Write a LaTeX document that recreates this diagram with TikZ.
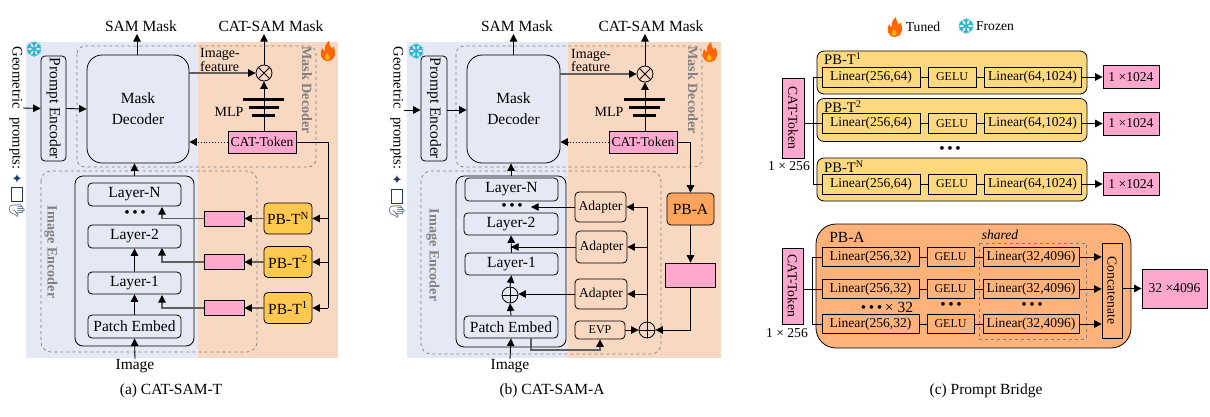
\documentclass[tikz,border=0pt]{standalone}
\usepackage{fontspec}
\setmainfont{Liberation Serif}
\newfontfamily\emojifont{Noto Emoji}
\newfontfamily\symfont{DejaVu Sans}
\usetikzlibrary{arrows.meta}
\definecolor{frozenbg}{HTML}{E4E9F5}
\definecolor{tunedbg}{HTML}{F9D8C2}
\definecolor{tokenpink}{HTML}{FFA8CF}
\definecolor{pbtgold}{HTML}{FFC84F}
\definecolor{pbtlight}{HTML}{FFD97F}
\definecolor{pbaorange}{HTML}{FFA45C}
\definecolor{pbalight}{HTML}{FFB27A}
\definecolor{iconteal}{HTML}{2FB5CF}
\definecolor{icondark}{HTML}{1F3864}
\definecolor{wiregray}{HTML}{5F5F5F}
\newcommand{\fbig}{\fontsize{15.5}{17}\selectfont}
\newcommand{\fmid}{\fontsize{13.6}{13}\selectfont}
\newcommand{\fsm}{\fontsize{12}{13}\selectfont}
\begin{document}
\begin{tikzpicture}[x=1pt,y=-1pt]
	\tikzstyle{every node}+=[inner sep=0pt,font=\fbig]
	\tikzstyle{arr}=[-{Triangle[length=7.5pt,width=7.5pt]},line width=0.9pt]
	\tikzstyle{grayarr}=[arr,draw=wiregray,line width=1.2pt,{-{Triangle[length=7.5pt,width=7.5pt,black]}}]
	\tikzstyle{line}=[line width=0.9pt]
	\tikzstyle{boxa}=[draw,line width=0.8pt,rounded corners=4pt]
	\tikzstyle{sq}=[draw,line width=0.8pt,font=\fmid]
	\tikzstyle{pink}=[sq,fill=tokenpink]
	\tikzstyle{fence}=[draw=gray,dashed,line width=0.7pt]
	\tikzstyle{grayname}=[text=gray,font=\fontsize{14.2}{16}\selectfont\bfseries,rotate=-90]
	\tikzstyle{otimes}=[draw,circle,line width=0.8pt,minimum size=16pt,path picture={
		\draw (path picture bounding box.north west) -- (path picture bounding box.south east);
		\draw (path picture bounding box.north east) -- (path picture bounding box.south west);}]
	\tikzstyle{oplus}=[draw,circle,line width=0.8pt,minimum size=16pt,path picture={
		\draw (path picture bounding box.north) -- (path picture bounding box.south);
		\draw (path picture bounding box.east) -- (path picture bounding box.west);}]
	\tikzset{flame/.pic={
		\fill[orange!80!red] (0,10) .. controls (-7,10) and (-9,3) .. (-6,-3) .. controls (-5,-1) and (-4,0) .. (-3,0) .. controls (-4,-4) and (-2,-8) .. (1,-10) .. controls (1,-6) and (3,-4) .. (4,-2) .. controls (5,-3) and (5,-4) .. (5,-5) .. controls (8,-1) and (9,9) .. (0,10);
		\fill[orange!55!yellow] (0,9) .. controls (-4,9) and (-4,5) .. (-1,2) .. controls (-1,4) and (4,5) .. (0,9);},
		snowflake/.pic={
		\foreach \ang in {0,60,...,300}
		{
			\draw[iconteal,line width=1.5pt,rotate=\ang] (0,0) -- (0,-7.5) (-2.6,-6.6) -- (0,-4.2) -- (2.6,-6.6);
		}}}
	\useasboundingbox (0,0) rectangle (1210,416);

	% (a) CAT-SAM-T
	\fill [frozenbg] (26,42) rectangle (198,358);
	\fill [tunedbg] (198,42) rectangle (338,358);
	\draw [fence,rounded corners=8pt] (77,46) rectangle (316,167);
	\draw [fence,rounded corners=10pt] (41,171) rectangle (257,352);
	\node [grayname] (mdnamea) at (307,90) {Mask Decoder};
	\node [grayname] (ienamea) at (51,252) {Image Encoder};
	\pic at (34,49) {snowflake};
	\pic at (328,51) {flame};
	\node [rotate=-90,font=\fontsize{14.6}{16}\selectfont] (geoa) at (16,108) {Geometric\hspace{5pt} prompts:};
	\node [text=icondark,font=\symfont\fontsize{13}{13}\selectfont] (stara) at (17,179) {✦};
	\node [draw=icondark,line width=0.8pt,minimum width=11pt,minimum height=14pt] (squarea) at (17,194) {};
	\node [text=icondark,rotate=-90,font=\emojifont\fontsize{15}{15}\selectfont] (handa) at (17,211) {✋};
	\node [boxa,rotate=-90,minimum width=105pt,minimum height=25pt] (pea) at (53.5,108.5) {Prompt Encoder};
	\node [boxa,rounded corners=15pt,minimum width=102pt,minimum height=108pt,align=center] (mda) at (138,109) {Mask\\[4pt]Decoder};
	\node (sama) at (141,26) {SAM Mask};
	\node (catsama) at (271,26) {CAT-SAM Mask};
	\node [otimes] (mula) at (264,73) {};
	\node [anchor=west,align=left,font=\fontsize{14}{12.5}\selectfont] (ifa) at (200,60) {Image-\\feature};
	\node [pink,minimum width=68pt,minimum height=22pt] (toka) at (262,142) {CAT-Token};
	\node [font=\fontsize{14}{16}\selectfont] (mlpa) at (229,112) {MLP};
	\draw [line width=3pt] (243,99) -- (284,99);
	\draw [line width=3pt] (249,107) -- (279,107);
	\draw [line width=3pt] (252,115) -- (275,115);
	\node [boxa,rounded corners=8pt,minimum width=119pt,minimum height=170pt] (enca) at (134.5,261) {};
	\node [boxa,minimum width=93pt,minimum height=23pt] (lna) at (134.5,194.5) {Layer-N};
	\node [boxa,minimum width=93pt,minimum height=23pt] (l2a) at (134.5,236.5) {Layer-2};
	\node [boxa,minimum width=93pt,minimum height=22pt] (l1a) at (134.5,283) {Layer-1};
	\node [boxa,minimum width=93pt,minimum height=23pt] (pata) at (134.5,326.5) {Patch Embed};
	\node (dotsa) at (135,214) {\textbullet\,\textbullet\,\textbullet};
	\node (imga) at (135,366) {Image};
	\node (capa) at (171,391) {(a) CAT-SAM-T};
	\coordinate (geooa) at (23,108);
	\coordinate (samtipa) at (137,34);
	\coordinate (cattipa) at (264,34);
	\draw [arr] (geooa) -- (pea.south);
	\draw [arr] (pea.north) -- (mda.west);
	\draw [arr] (mda.north -| samtipa) -- (samtipa);
	\draw [arr] (mula.north) -- (cattipa);
	\draw [grayarr] (mda.east |- mula) -- (mula.west);
	\draw [arr] (mula.south |- toka.north) -- (mula.south);
	\draw [arr,dotted] (toka.west) -- (mda.east |- toka);
	\draw [arr] (imga.north) -- (pata.south);
	\draw [arr] (pata.north) -- (l1a.south);
	\draw [arr] (l1a.north) -- (l2a.south);
	\draw [arr] (enca.north) -- (enca.north |- mda.south);
	\coordinate (spinea) at (328,308);
	\draw [line] (toka.east) -| (spinea);
	\foreach \lv/\yb/\yt in {N/218.5/207,2/262/248,1/308/295}
	{
		\node [boxa,fill=pbtgold,minimum width=48pt,minimum height=31pt] (pbt\lv) at (288,\yb) {PB-T\textsuperscript{\lv}};
		\node [pink,minimum width=40pt,minimum height=15pt] (pk\lv) at (224,\yb) {};
		\coordinate (tap\lv) at (162,\yt);
		\draw [arr] (spinea |- pbt\lv.east) -- (pbt\lv.east);
		\draw [grayarr] (pbt\lv.west) -- (pk\lv.east);
		\draw [grayarr] (pk\lv.west) -| (tap\lv);
	}

	% (b) CAT-SAM-A
	\fill [frozenbg] (407,42) rectangle (568,358);
	\fill [tunedbg] (568,42) rectangle (721,358);
	\draw [fence,rounded corners=8pt] (456,46) rectangle (702,167);
	\draw [fence,rounded corners=10pt] (421,171) rectangle (661,354);
	\node [grayname] (mdnameb) at (693,90) {Mask Decoder};
	\node [grayname] (ienameb) at (433,255) {Image Encoder};
	\pic at (416,51) {snowflake};
	\pic at (710,52) {flame};
	\node [rotate=-90,font=\fontsize{14.6}{16}\selectfont] (geob) at (397,108) {Geometric\hspace{5pt} prompts:};
	\node [text=icondark,font=\symfont\fontsize{13}{13}\selectfont] (starb) at (397,180) {✦};
	\node [draw=icondark,line width=0.8pt,minimum width=11pt,minimum height=14pt] (squareb) at (397,196) {};
	\node [text=icondark,rotate=-90,font=\emojifont\fontsize{15}{15}\selectfont] (handb) at (397,212) {✋};
	\node [boxa,rotate=-90,minimum width=105pt,minimum height=26pt] (peb) at (434,108.5) {Prompt Encoder};
	\node [boxa,rounded corners=15pt,minimum width=93pt,minimum height=108pt,align=center] (mdb) at (513.5,109) {Mask\\[4pt]Decoder};
	\node (samb) at (517,26) {SAM Mask};
	\node (catsamb) at (651,26) {CAT-SAM Mask};
	\node [otimes] (mulb) at (645,74) {};
	\node [anchor=west,align=left,font=\fontsize{14}{12.5}\selectfont] (ifb) at (571,60.5) {Image-\\feature};
	\node [pink,minimum width=68pt,minimum height=22pt] (tokb) at (643,142) {CAT-Token};
	\node [font=\fontsize{14}{16}\selectfont] (mlpb) at (609,112) {MLP};
	\draw [line width=3pt] (624,99) -- (665,99);
	\draw [line width=3pt] (629,107) -- (660,107);
	\draw [line width=3pt] (633,115) -- (656,115);
	\node [boxa,rounded corners=8pt,minimum width=110pt,minimum height=171pt] (encb) at (511,261.5) {};
	\node [boxa,minimum width=93pt,minimum height=23pt] (lnb) at (511.5,189.5) {Layer-N};
	\node [boxa,minimum width=94pt,minimum height=22pt] (l2b) at (511,224) {Layer-2};
	\node [boxa,minimum width=93pt,minimum height=22pt] (l1b) at (511.5,264) {Layer-1};
	\node [boxa,minimum width=94pt,minimum height=22pt] (patb) at (511,327) {Patch Embed};
	\node [oplus] (addb) at (510,295) {};
	\node (dotsb) at (512,207) {\textbullet\,\textbullet\,\textbullet};
	\node (imgb) at (510,366) {Image};
	\node (capb) at (552,391) {(b) CAT-SAM-A};
	\node [boxa,font=\fmid,minimum width=51pt,minimum height=30pt] (adn) at (600.5,207) {Adapter};
	\node [boxa,font=\fmid,minimum width=51pt,minimum height=32pt] (ad2) at (601.5,247) {Adapter};
	\node [boxa,font=\fmid,minimum width=52pt,minimum height=30pt] (ad1) at (601,294) {Adapter};
	\node [boxa,font=\fsm,minimum width=50pt,minimum height=18pt] (evp) at (600,330) {EVP};
	\node [oplus] (addc) at (647,330) {};
	\node [boxa,fill=pbaorange,minimum width=47pt,minimum height=32pt] (pbab) at (690.5,209) {PB-A};
	\node [pink,minimum width=50pt,minimum height=24pt] (pkb) at (690.5,275) {};
	\coordinate (geoob) at (404,110);
	\coordinate (samtipb) at (513.5,34);
	\coordinate (cattipb) at (645,34);
	\coordinate (adntip) at (531,207);
	\coordinate (ad2tip) at (511,247);
	\coordinate (evpturn) at (531,350);
	\draw [arr] (geoob) -- (peb.south |- geoob);
	\draw [arr] (peb.north |- geoob) -- (mdb.west |- geoob);
	\draw [arr] (mdb.north) -- (samtipb);
	\draw [arr] (mulb.north) -- (cattipb);
	\draw [grayarr] (mdb.east |- mulb) -- (mulb.west);
	\draw [arr] (mulb.south |- tokb.north) -- (mulb.south);
	\draw [arr,dotted] (tokb.west) -- (mdb.east |- tokb);
	\draw [arr] (tokb.east) -| (pbab.north);
	\draw [arr] (pbab.south) -- (pkb.north);
	\draw [arr] (pkb.south) |- (addc.east);
	\draw [arr] (imgb.north) -- (patb.south);
	\draw [arr] (patb.north) -- (addb.south);
	\draw [arr] (addb.north) -- (l1b.south);
	\draw [arr] (l1b.north) -- (l2b.south);
	\draw [arr] (encb.north) -- (encb.north |- mdb.south);
	\draw [arr] (ad1.west) -- (addb.east |- ad1);
	\draw [arr] (ad2.west) -- (ad2tip);
	\draw [arr] (adn.west) -- (adntip);
	\draw [arr] (evp.east) -- (addc.west);
	\draw [line] (addc.north) -- (addc.north |- adn.east);
	\draw [arr] (addc.north |- adn.east) -- (adn.east);
	\draw [arr] (addc.north |- ad2.east) -- (ad2.east);
	\draw [arr] (addc.north |- ad1.east) -- (ad1.east);
	\draw [grayarr] (adntip |- patb.south) -- (evpturn) -| (evp.south);

	% (c) Prompt Bridge
	\pic at (895,27) {flame};
	\node [font=\fmid] (tuned) at (923,27) {Tuned};
	\pic at (966,26) {snowflake};
	\node [font=\fmid] (frozen) at (995,26) {Frozen};
	\foreach \lv/\yb/\yr/\ys in {1/72.5/77/59,2/120/123.5/107,N/179.5/184/167}
	{
		\node [boxa,rounded corners=7pt,fill=pbtlight,minimum width=270pt,minimum height=43pt] (pbc\lv) at (952,\yb) {};
		\node [anchor=west,font=\fontsize{14.6}{16}\selectfont] (name\lv) at (824,\ys) {PB-T\textsuperscript{\lv}};
		\node [sq,minimum width=98pt,minimum height=20pt] (la\lv) at (871,\yr) {Linear(256,64)};
		\node [sq,minimum width=48pt,minimum height=20pt,font=\fsm] (ge\lv) at (952,\yr) {GELU};
		\node [sq,minimum width=97pt,minimum height=20pt] (lb\lv) at (1032.5,\yr) {Linear(64,1024)};
		\node [pink,minimum width=56pt,minimum height=23pt] (out\lv) at (1131,\yr) {1 ×1024};
		\draw [line] (la\lv.east) -- (ge\lv.west);
		\draw [line] (ge\lv.east) -- (lb\lv.west);
		\draw [arr] (lb\lv.east) -- (out\lv.west);
	}
	\node (dotsc) at (950,150) {\textbullet\,\textbullet\,\textbullet};
	\node [pink,rotate=-90,minimum width=80pt,minimum height=22pt] (tokc) at (793,118) {CAT-Token};
	\node [font=\fmid] (dimc) at (789,166) {1 × 256};
	\coordinate (spc) at (813,123.5);
	\draw [line] (tokc.north |- la2.west) -- (la2.west);
	\draw [line] (spc) |- (la1.west);
	\draw [line] (spc) |- (laN.west);

	\node [boxa,rounded corners=20pt,fill=pbalight,minimum width=315pt,minimum height=124pt] (pbac) at (973.5,286) {};
	\node (pbaname) at (847,237) {PB-A};
	\node [font=\fmid\itshape] (shared) at (1000,235) {shared};
	\draw [fence] (979,243) rectangle (1086,339);
	\node [sq,rotate=-90,minimum width=95pt,minimum height=20pt] (con) at (1112,290.5) {Concatenate};
	\node [pink,minimum width=65pt,minimum height=39pt] (outc) at (1174.5,288.5) {32 ×4096};
	\foreach \rw/\yr in {1/257,2/289,3/324}
	{
		\node [sq,minimum width=97pt,minimum height=19pt] (ra\rw) at (870.5,\yr) {Linear(256,32)};
		\node [sq,minimum width=47pt,minimum height=19pt,font=\fsm] (rg\rw) at (950.5,\yr) {GELU};
		\node [sq,minimum width=96pt,minimum height=19pt] (rb\rw) at (1031,\yr) {Linear(32,4096)};
		\draw [line] (ra\rw.east) -- (rg\rw.west);
		\draw [line] (rg\rw.east) -- (rb\rw.west);
		\draw [arr] (rb\rw.east) -- (rb\rw.east -| con.south);
	}
	\node (dotsd) at (887,307) {\textbullet\,\textbullet\,\textbullet\,× 32};
	\node (dotse) at (951,306) {\textbullet\,\textbullet\,\textbullet};
	\node (dotsf) at (1032,306) {\textbullet\,\textbullet\,\textbullet};
	\node [pink,rotate=-90,minimum width=76pt,minimum height=21pt] (tokd) at (792.5,286) {CAT-Token};
	\node [font=\fmid] (dimd) at (787,333) {1 × 256};
	\coordinate (spd) at (812,289);
	\draw [line] (tokd.north |- ra2.west) -- (ra2.west);
	\draw [line] (spd) |- (ra1.west);
	\draw [line] (spd) |- (ra3.west);
	\draw [arr] (con.north |- outc.west) -- (outc.west);
	\node (capc) at (986,391) {(c) Prompt Bridge};
\end{tikzpicture}
\end{document}
